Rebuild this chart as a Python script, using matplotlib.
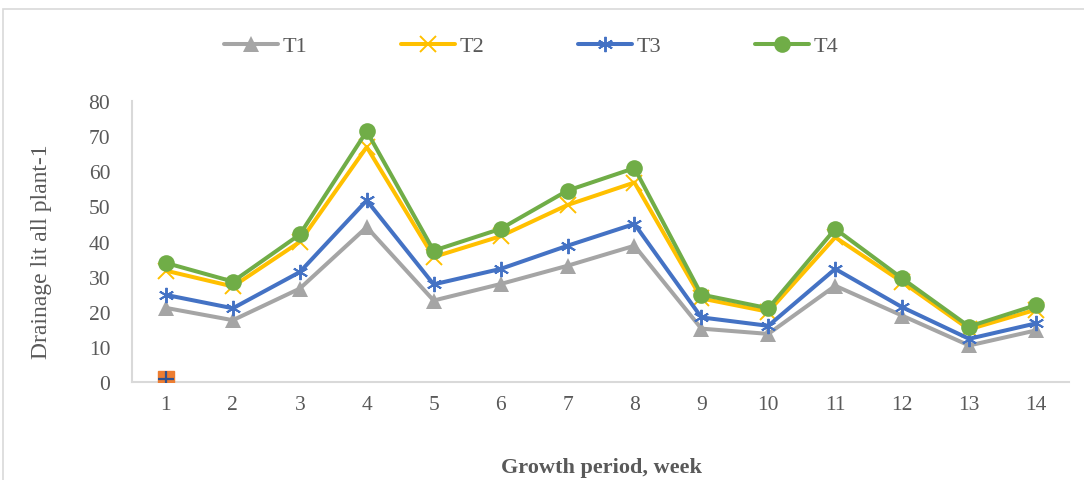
#!/usr/bin/env python3
"""Drainage per plant over the growth period, four treatments."""

import matplotlib.pyplot as plt
from matplotlib.patches import Rectangle

weeks = list(range(1, 15))
t1 = [21.1, 17.6, 26.6, 44.1, 23.2, 27.9, 33.1, 38.8, 15.2, 13.7, 27.4, 18.9, 10.4, 14.7]
t2 = [31.7, 27.2, 39.9, 66.9, 35.6, 41.5, 50.4, 56.8, 23.8, 20.0, 41.2, 28.5, 15.0, 20.6]
t3 = [24.8, 21.0, 31.3, 51.7, 27.8, 32.2, 38.8, 45.0, 18.4, 16.0, 32.2, 21.3, 12.3, 16.7]
t4 = [33.9, 28.6, 42.0, 71.4, 37.4, 43.6, 54.5, 60.9, 24.9, 21.0, 43.6, 29.5, 15.8, 21.9]
stray_x = [1]
stray_y = [1.0]

series = [
    ("T1", t1, "#A5A5A5", "^"),
    ("T2", t2, "#FFC000", "x"),
    ("T3", t3, "#4472C4", (6, 2, 0)),
    ("T4", t4, "#70AD47", "o"),
]

TEXT = "#595959"
plt.rcParams["font.family"] = ["Liberation Serif", "DejaVu Serif"]


def main():
    fig = plt.figure(figsize=(10.84, 4.81), dpi=100)
    ax = fig.add_axes([0.1222, 0.2037, 0.8644, 0.5842])

    for name, vals, color, marker in series:
        filled = marker in ("^", "o")
        ax.plot(
            weeks, vals,
            color=color, lw=2.9, label=name,
            marker=marker,
            markersize=12 if filled else 11,
            markeredgewidth=0 if filled else 1.4,
            markeredgecolor=color, markerfacecolor=color,
            solid_capstyle="round", zorder=3,
        )

    # odd extra point sitting on the axis at week 1
    ax.plot(stray_x, stray_y, ls="none", marker="s", markersize=12,
            color="#ED7D31", zorder=4)
    ax.plot(stray_x, stray_y, ls="none", marker="+", markersize=11,
            markeredgewidth=1.6, color="#2F528F", zorder=5)

    ax.set_xlim(0.5, 14.5)
    ax.set_ylim(0, 80)
    ax.set_xticks(weeks)
    ax.set_yticks(range(0, 81, 10))
    ax.tick_params(length=0, labelsize=15.5, labelcolor=TEXT)
    ax.tick_params(axis="y", pad=16)
    ax.tick_params(axis="x", pad=9)

    for side in ("top", "right"):
        ax.spines[side].set_visible(False)
    for side in ("left", "bottom"):
        ax.spines[side].set_color("#D9D9D9")
        ax.spines[side].set_linewidth(1.5)

    ax.set_ylabel("Drainage lit all plant-1", fontsize=17, color=TEXT)
    ax.yaxis.set_label_coords(-0.086, 0.468)
    ax.set_xlabel("Growth period, week", fontsize=16, color=TEXT,
                  fontweight="bold")
    ax.xaxis.set_label_coords(0.501, -0.268)

    fig.legend(
        loc="center", bbox_to_anchor=(0.4899, 0.902), ncol=4, frameon=False,
        fontsize=16, labelcolor=TEXT, handlelength=2.45, handletextpad=0.2,
        columnspacing=4.2,
    )

    # chart-area border, cut off at right and bottom
    fig.add_artist(Rectangle((3 / 1084, -0.05), 1.1, 1.05 - 10 / 481,
                             transform=fig.transFigure, fill=False,
                             edgecolor="#D9D9D9", lw=1.2, clip_on=False))

    fig.savefig("out.png", dpi=100)
    plt.close(fig)


if __name__ == "__main__":
    main()
